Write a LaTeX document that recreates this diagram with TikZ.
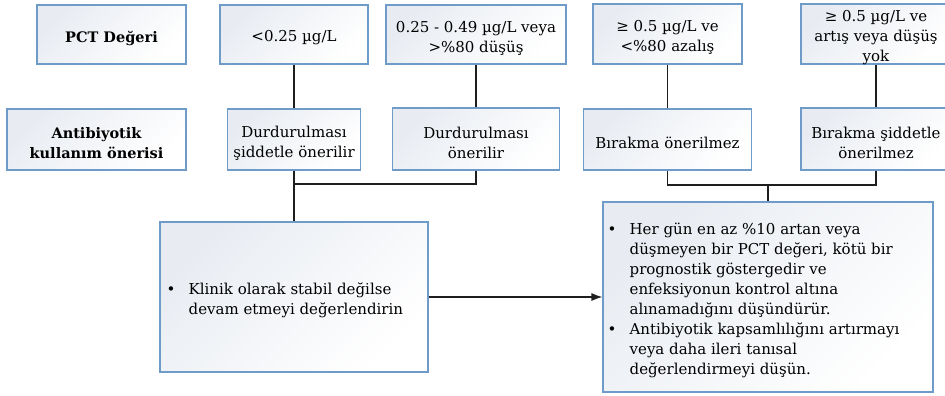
\documentclass[tikz,border=0pt]{standalone}
\usepackage{fontspec}
\setmainfont{DejaVu Serif}
\usetikzlibrary{arrows.meta}

\definecolor{boxedge}{RGB}{110,155,200}
\definecolor{boxtint}{RGB}{232,236,242}
\definecolor{wirecol}{RGB}{30,30,30}

\tikzset{
  card/.style={rectangle, draw=boxedge, line width=1.1pt,
    top color=boxtint, bottom color=white, shading angle=45, inner sep=0pt},
  cardtext/.style={align=center, inner sep=0pt, text=black, yshift=-3.5pt,
    font=\fontsize{15}{20}\selectfont},
  heavy/.style={font=\fontsize{14.5}{19.5}\selectfont\bfseries},
  listtext/.style={cardtext, align=left, anchor=west},
  link/.style={draw=wirecol, line width=1.3pt},
}

\begin{document}
\begin{tikzpicture}[x=1pt,y=-1pt]
\clip (0,0) rectangle (945,396);

% header row: PCT ranges
\node[card, minimum width=149pt, minimum height=59pt] (pct) at (111.5,34.5) {};
\node[cardtext, heavy] (pct-t) at (pct.center) {PCT Değeri};
\node[card, minimum width=148pt, minimum height=59pt] (a1) at (294,34.5) {};
\node[cardtext] (a1-t) at (a1.center) {<0.25 µg/L};
\node[card, minimum width=180pt, minimum height=59pt] (a2) at (476,34.5) {};
\node[cardtext] (a2-t) at (a2.center) {0.25 - 0.49 µg/L veya\\>\%80 düşüş};
\node[card, minimum width=149pt, minimum height=60pt] (a3) at (667.5,34) {};
\node[cardtext] (a3-t) at (a3.center) {≥ 0.5 µg/L ve\\<\%80 azalış};
\node[card, minimum width=150pt, minimum height=60pt] (a4) at (876,34) {};
\node[cardtext, yshift=-0.5pt] (a4-t) at (a4.center) {≥ 0.5 µg/L ve\\artış veya düşüş\\yok};

% second row: recommendation
\node[card, minimum width=179pt, minimum height=61pt] (ant) at (96.5,139.5) {};
\node[cardtext, heavy] (ant-t) at (ant.center) {Antibiyotik\\kullanım önerisi};
\node[card, minimum width=133pt, minimum height=61pt] (b1) at (294,139.5) {};
\node[cardtext] (b1-t) at (b1.center) {Durdurulması\\şiddetle önerilir};
\node[card, minimum width=167pt, minimum height=62pt] (b2) at (476,139) {};
\node[cardtext] (b2-t) at (b2.center) {Durdurulması\\önerilir};
\node[card, minimum width=168pt, minimum height=61pt] (b3) at (667.5,139.5) {};
\node[cardtext] (b3-t) at (b3.center) {Bırakma önerilmez};
\node[card, minimum width=150pt, minimum height=62pt] (b4) at (876,139) {};
\node[cardtext] (b4-t) at (b4.center) {Bırakma şiddetle\\önerilmez};

% bottom row: follow-up advice
\node[card, minimum width=268pt, minimum height=150pt] (c1) at (294,297) {};
\node[listtext, xshift=7pt] (c1-t) at (c1.west) {%
\begin{tabular}{@{}p{22pt}@{}l@{}}
\textbullet & Klinik olarak stabil değilse\\
 & devam etmeyi değerlendirin
\end{tabular}};
\node[card, minimum width=330pt, minimum height=190pt] (c2) at (768,297) {};
\node[listtext, xshift=5pt, yshift=0.5pt] (c2-t) at (c2.west) {%
\begin{tabular}{@{}p{22pt}@{}l@{}}
\textbullet & Her gün en az \%10 artan veya\\
 & düşmeyen bir PCT değeri, kötü bir\\
 & prognostik göstergedir ve\\
 & enfeksiyonun kontrol altına\\
 & alınamadığını düşündürür.\\
\textbullet & Antibiyotik kapsamlılığını artırmayı\\
 & veya daha ileri tanısal\\
 & değerlendirmeyi düşün.
\end{tabular}};

% connectors
\coordinate (j1) at (294,184);
\coordinate (j2) at (768,185);
\draw[link] (a1.south) -- (b1.north);
\draw[link] (a2.south) -- (b2.north);
\draw[link] (a3.south) -- (b3.north);
\draw[link] (a4.south) -- (b4.north);
\draw[link] (b1.south) -- (c1.north);
\draw[link] (b2.south) |- (j1);
\draw[link] (b3.south) |- (j2) -| (b4.south);
\draw[link] (j2) -- (c2.north);
\draw[link, -{Latex[length=11pt,width=8pt]}] (c1.east) -- (c2.west);
\end{tikzpicture}
\end{document}
